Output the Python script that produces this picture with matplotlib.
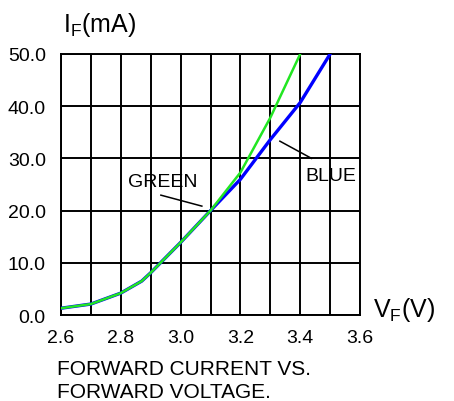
import numpy as np
import matplotlib
matplotlib.use("Agg")
import matplotlib.pyplot as plt

# forward current vs forward voltage
blue_v = [2.6, 2.7, 2.8, 2.87, 2.9, 3.0, 3.1, 3.2, 3.3, 3.4, 3.5]
blue_i = [1.3, 2.1, 4.2, 6.5, 8.1, 13.9, 20.0, 26.0, 33.6, 40.7, 50.0]
green_v = [2.6, 2.7, 2.8, 2.87, 2.9, 3.0, 3.1, 3.2, 3.3, 3.4]
green_i = [1.3, 2.1, 4.2, 6.5, 8.1, 13.9, 20.0, 27.3, 37.8, 50.0]

x_ticks = [2.6, 2.8, 3.0, 3.2, 3.4, 3.6]
y_ticks = [0, 10, 20, 30, 40, 50]

plt.rcParams["font.family"] = ["Liberation Sans", "DejaVu Sans"]
plt.rcParams["mathtext.fontset"] = "custom"
plt.rcParams["mathtext.rm"] = "Liberation Sans"

fig = plt.figure(figsize=(4.54, 4.02), dpi=100)
ax = fig.add_axes([0.1344, 0.2139, 0.6586, 0.6493])

ax.plot(blue_v, blue_i, color="#0000ff", lw=2.4, zorder=3)
ax.plot(green_v, green_i, color="#22e622", lw=1.8, zorder=4)

ax.set_xlim(2.6, 3.6)
ax.set_ylim(0, 50)
ax.set_xticks(x_ticks)
ax.set_xticks(np.arange(2.6, 3.61, 0.1), minor=True)
ax.set_yticks(y_ticks)
ax.set_xticklabels(["%.1f" % v for v in x_ticks])
ax.set_yticklabels(["%.1f" % v for v in y_ticks])
ax.tick_params(which="both", length=0, labelsize=14, colors="black")
ax.tick_params(axis="x", pad=10)
ax.tick_params(axis="y", pad=11)
ax.grid(which="both", color="black", lw=1.4)
for s in ax.spines.values():
    s.set_linewidth(1.4)

# curve labels with leader lines
ax.text(2.824, 25.6, "GREEN", fontsize=14, va="center", ha="left")
ax.plot([2.934, 3.071], [22.96, 20.86], color="black", lw=1.1)
ax.text(3.416, 26.7, "BLUE", fontsize=14, va="center", ha="left")
ax.plot([3.332, 3.438], [33.3, 30.0], color="black", lw=1.1, clip_on=False)

fig.text(0.138, 0.92, r"$\mathregular{I_F(mA)}$", fontsize=18, va="baseline")
fig.text(0.822, 0.211, r"$\mathregular{V_F(V)}$", fontsize=18, va="baseline")
fig.text(0.126, 0.067, "FORWARD CURRENT VS.", fontsize=15, va="baseline")
fig.text(0.126, 0.01, "FORWARD VOLTAGE.", fontsize=15, va="baseline")

fig.savefig("out.png", dpi=100)
